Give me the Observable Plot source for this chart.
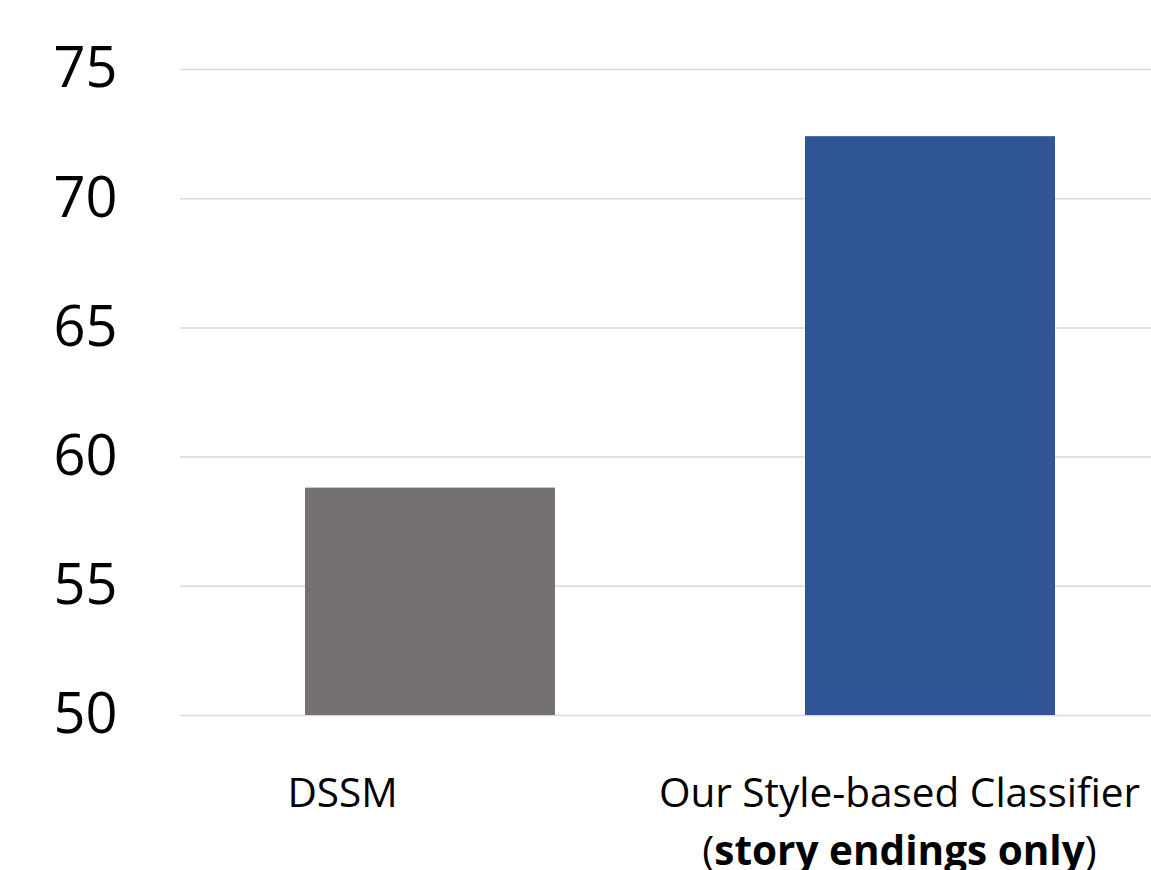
<!DOCTYPE html>
<html>
<head>
<meta charset="utf-8">
<script src="https://cdn.jsdelivr.net/npm/d3@7"></script>
<script src="https://cdn.jsdelivr.net/npm/@observablehq/plot@0.6"></script>
<style>
  html, body { margin: 0; padding: 0; background: #fff; overflow: hidden; }
</style>
</head>
<body>
<div id="chart"></div>
<script>
const categories = ["DSSM", "Our Style-based Classifier"];
const values = [58.8, 72.4];
const barColors = ["#767171", "#2F5597"];
const labelLines = ["DSSM", "Our Style-based Classifier\n(story endings only)"];
const yTicks = [50, 55, 60, 65, 70, 75];
const yDomain = [50, 75];

const data = categories.map((name, i) => ({name, value: values[i], label: labelLines[i]}));

const chart = Plot.plot({
  width: 1151,
  height: 870,
  marginLeft: 180,
  marginRight: 0,
  marginTop: 69,
  marginBottom: 155,
  style: {fontFamily: "'Open Sans', 'Liberation Sans', sans-serif", background: "#fff", color: "#000"},
  x: {domain: categories, range: [180, 1180], paddingInner: 0.5, paddingOuter: 0.25, axis: null},
  y: {domain: yDomain, label: null},
  color: {domain: categories, range: barColors},
  marks: [
    Plot.gridY(yTicks, {stroke: "#d9d9d9", strokeOpacity: 1, strokeWidth: 1.5}),
    Plot.axisY(yTicks, {tickSize: 0, tickPadding: 63, fontSize: 56, fill: "#000", label: null}),
    Plot.barY(data, {x: "name", y1: () => yDomain[0], y2: "value", fill: "name"}),
    Plot.text(data.slice(0, 1), {x: "name", text: "label", frameAnchor: "bottom", lineAnchor: "top", dy: 51, dx: -88, fontSize: 40.5, lineHeight: 1.42, fill: "#000"}),
    Plot.text(data.slice(1), {x: "name", text: "label", frameAnchor: "bottom", lineAnchor: "top", dy: 51, dx: -31, fontSize: 40.5, lineHeight: 1.42, fill: "#000"})
  ]
});

document.getElementById("chart").appendChild(chart);

// make the middle of the second line bold
chart.querySelectorAll("tspan").forEach(ts => {
  if (ts.textContent === "(story endings only)") {
    while (ts.firstChild) ts.removeChild(ts.firstChild);
    const ns = "http://www.w3.org/2000/svg";
    ts.appendChild(document.createTextNode("("));
    const b = document.createElementNS(ns, "tspan");
    b.setAttribute("font-weight", "bold");
    b.textContent = "story endings only";
    ts.appendChild(b);
    ts.appendChild(document.createTextNode(")"));
  }
});
</script>
</body>
</html>
